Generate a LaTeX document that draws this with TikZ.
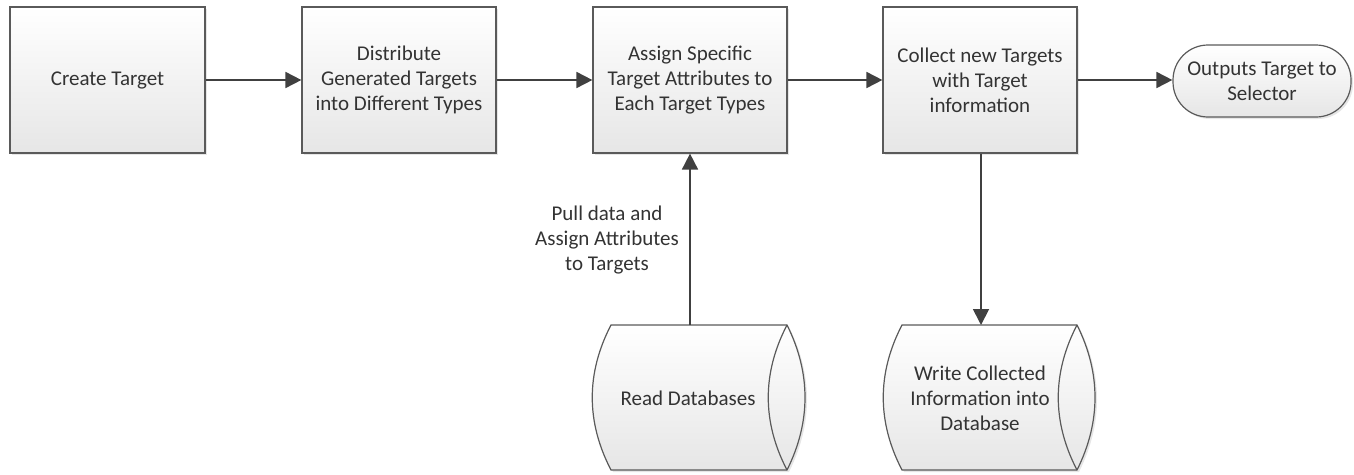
\documentclass[tikz,border=0pt]{standalone}
\usepackage{fontspec}
\setmainfont{Carlito}
\usetikzlibrary{arrows.meta,shadows}
\definecolor{boxline}{HTML}{5A5A5A}
\definecolor{boxfill}{HTML}{E6E6E6}
\definecolor{textcol}{HTML}{333333}
\definecolor{arrowcol}{HTML}{404040}
\begin{document}
\begin{tikzpicture}[x=1pt,y=-1pt,
 box/.style={draw=boxline, line width=1.2pt, top color=white, bottom color=boxfill,
   drop shadow={shadow xshift=2pt, shadow yshift=-2pt, opacity=0.2}},
 txt/.style={font=\fontsize{21}{25}\selectfont, text=textcol, align=center},
 conn/.style={draw=arrowcol, line width=1.8pt, -{Triangle[length=16pt,width=16pt]}}]
\useasboundingbox (0,0) rectangle (1354,474);

\node[box, txt, minimum width=195pt, minimum height=146pt] (b1) at (107.5,80) {Create Target};
\node[box, txt, minimum width=194pt, minimum height=146pt] (b2) at (399,80) {Distribute\\Generated Targets\\into Different Types};
\node[box, txt, minimum width=194pt, minimum height=146pt] (b3) at (690,80) {Assign Specific\\Target Attributes to\\Each Target Types};
\node[box, txt, minimum width=194pt, minimum height=146pt] (b4) at (980,80) {Collect new Targets\\with Target\\information};
\node[box, txt, rounded corners=35pt, minimum width=178pt, minimum height=72pt] (out) at (1262,81) {Outputs Target to\\Selector};

% cylinders
\path[box] (611,325) -- (787,325)
  .. controls (811,373) and (811,422) .. (787,470)
  -- (611,470)
  .. controls (586,422) and (586,373) .. (611,325) -- cycle;
\draw[boxline, line width=1.2pt] (787,325) .. controls (762,373) and (762,422) .. (787,470);
\node[txt] (rd) at (688,398) {Read Databases};
\coordinate (rdtop) at (690,325);

\path[box] (902,325) -- (1077,325)
  .. controls (1101,373) and (1101,422) .. (1077,470)
  -- (902,470)
  .. controls (877,422) and (877,373) .. (902,325) -- cycle;
\draw[boxline, line width=1.2pt] (1077,325) .. controls (1052,373) and (1052,422) .. (1077,470);
\node[txt] (wd) at (980,398) {Write Collected\\Information into\\Database};
\coordinate (wdtop) at (981,325);

\node[txt] (lbl) at (607,240) {Pull data and\\Assign Attributes\\to Targets};

\draw[conn] (b1.east) -- (b2.west);
\draw[conn] (b2.east) -- (b3.west);
\draw[conn] (b3.east) -- (b4.west);
\draw[conn] (b4.east) -- (b4.east -| out.west);
\draw[conn] (rdtop) -- (b3.south);
\draw[conn] (b4.south -| wdtop) -- (wdtop);
\end{tikzpicture}
\end{document}
